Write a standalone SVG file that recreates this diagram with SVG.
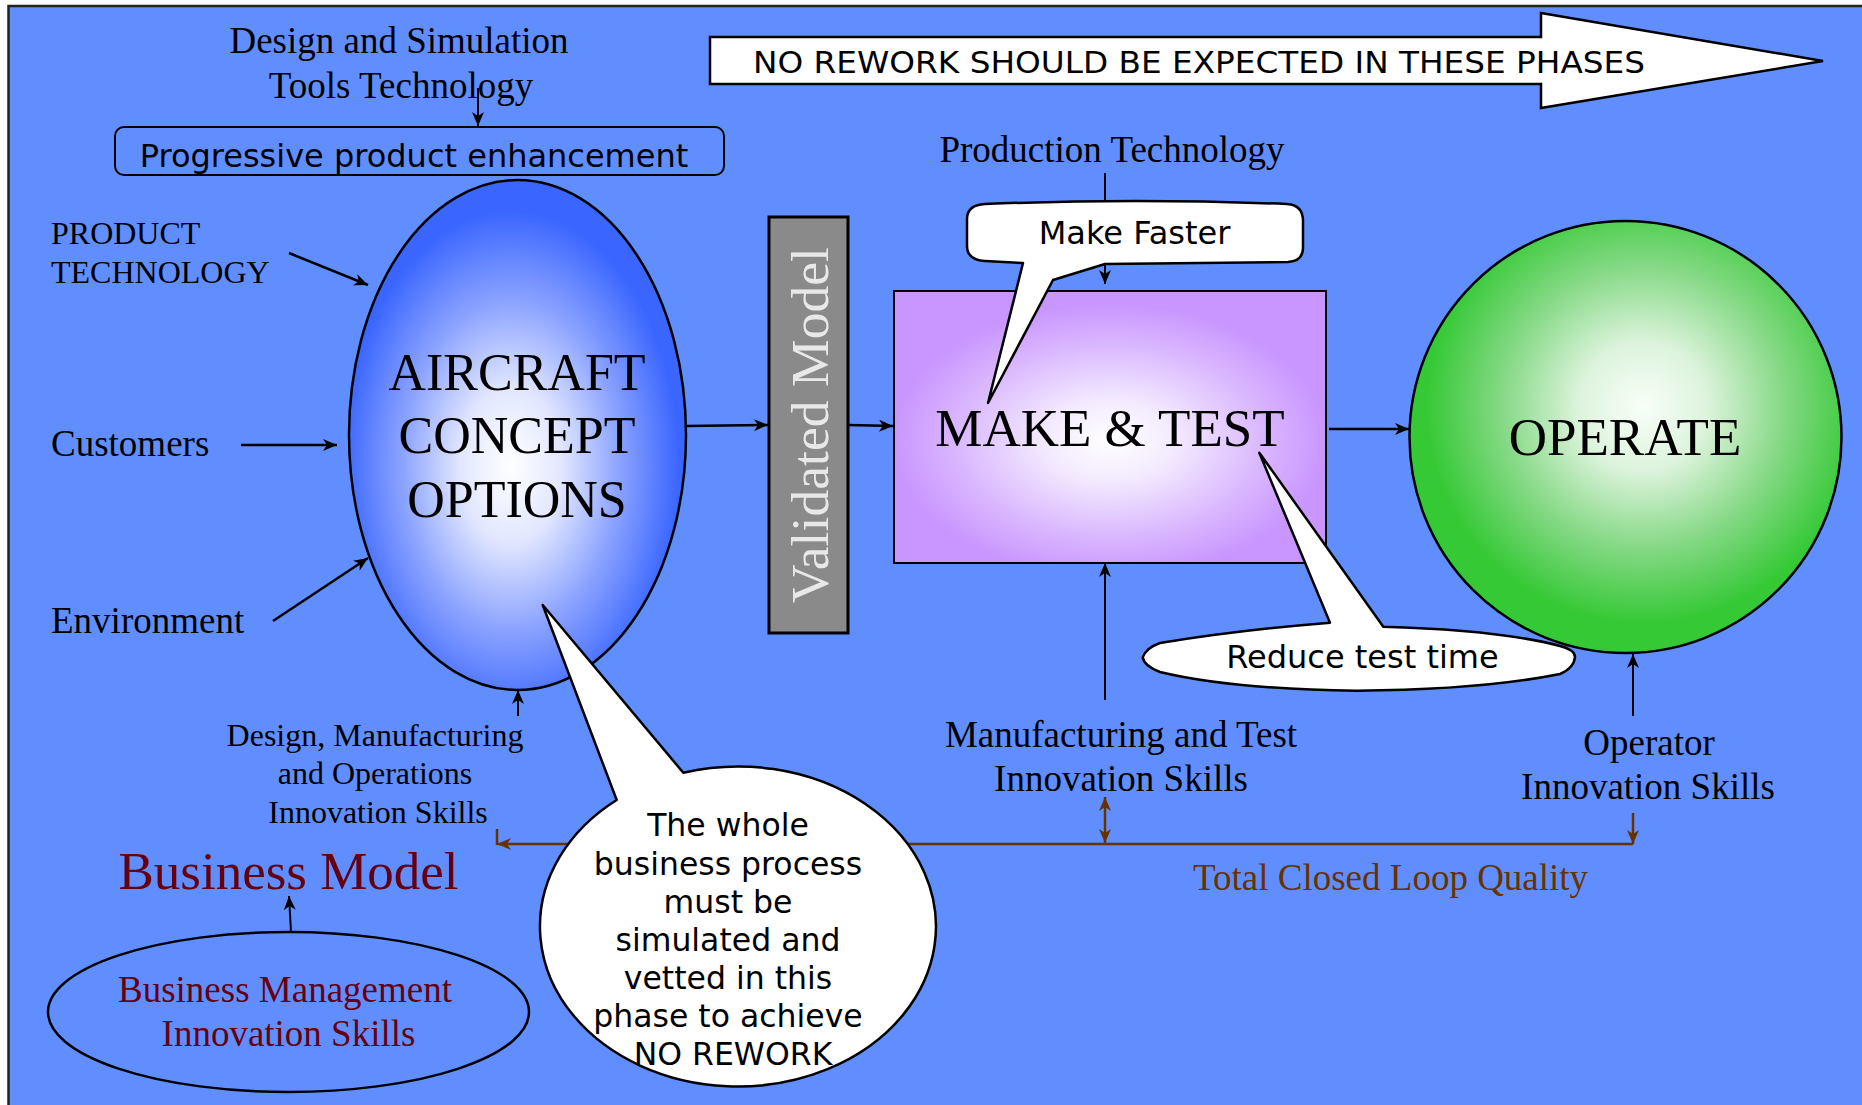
<svg xmlns="http://www.w3.org/2000/svg" width="1862" height="1105" viewBox="0 0 1862 1105">
<defs>
<style>
.serif{font-family:"Liberation Serif","Times New Roman",serif;fill:#000}
.sans{font-family:"DejaVu Sans",Verdana,sans-serif;fill:#000}
.ln{stroke:#000;stroke-width:2.5;fill:none}
.thin{stroke:#000;stroke-width:2;fill:none}
.br{stroke:#663300;stroke-width:2.5;fill:none}
.ol{stroke:#000;stroke-width:2.5}
.call{fill:#fff;stroke:#000;stroke-width:2.5;stroke-linejoin:round}
.red{fill:#66000f}
</style>
<marker id="ah" markerUnits="userSpaceOnUse" viewBox="0 0 14 12" markerWidth="14" markerHeight="12" refX="14" refY="6" orient="auto">
<path d="M0,0 L14,6 L0,12 L4,6 z" fill="#000"/>
</marker>
<marker id="ahb" markerUnits="userSpaceOnUse" viewBox="0 0 14 12" markerWidth="14" markerHeight="12" refX="14" refY="6" orient="auto-start-reverse">
<path d="M0,0 L14,6 L0,12 L4,6 z" fill="#663300"/>
</marker>
<radialGradient id="gAir" cx="0.48" cy="0.56" r="0.5">
<stop offset="0" stop-color="#ffffff"/>
<stop offset="0.3" stop-color="#e2e7ff"/>
<stop offset="0.65" stop-color="#8aa2ff"/>
<stop offset="1" stop-color="#3a66ff"/>
</radialGradient>
<radialGradient id="gMake" cx="0.5" cy="0.55" r="0.5">
<stop offset="0" stop-color="#ffffff"/>
<stop offset="0.3" stop-color="#f3eaff"/>
<stop offset="0.7" stop-color="#dab8ff"/>
<stop offset="1" stop-color="#c996ff"/>
</radialGradient>
<radialGradient id="gOp" cx="0.54" cy="0.43" r="0.5">
<stop offset="0" stop-color="#f8fff8"/>
<stop offset="0.3" stop-color="#dcf3dc"/>
<stop offset="0.65" stop-color="#86d986"/>
<stop offset="1" stop-color="#36c936"/>
</radialGradient>
</defs>

<rect x="0" y="0" width="1862" height="1105" fill="#ffffff"/>
<rect x="8.5" y="6" width="1870" height="1110" fill="#618eff" stroke="#222" stroke-width="2.5"/>

<g id="banner">
<polygon points="710,37 1541,37 1541,13 1823,61 1541,108 1541,84 710,84" fill="#fff" stroke="#000" stroke-width="2.5" stroke-linejoin="miter"/>
<text class="sans" x="753" y="73" font-size="30" textLength="892" lengthAdjust="spacingAndGlyphs">NO REWORK SHOULD BE EXPECTED IN THESE PHASES</text>
</g>

<g id="design-sim-tools">
<text class="serif" x="399" y="53" font-size="37" text-anchor="middle">Design and Simulation</text>
<text class="serif" x="401" y="98" font-size="37" text-anchor="middle">Tools Technology</text>
</g>

<g id="progressive">
<rect x="115" y="127" width="609" height="48" rx="9" fill="none" stroke="#000" stroke-width="2"/>
<text class="sans" x="414" y="167" font-size="32" text-anchor="middle">Progressive product enhancement</text>
</g>

<g id="product-technology">
<text class="serif" x="51" y="244" font-size="32">PRODUCT</text>
<text class="serif" x="51" y="283" font-size="32">TECHNOLOGY</text>
</g>
<g id="customers"><text class="serif" x="51" y="456" font-size="37">Customers</text></g>
<g id="environment"><text class="serif" x="51" y="633" font-size="37">Environment</text></g>

<g id="aircraft">
<ellipse cx="517.5" cy="435" rx="168.5" ry="255" fill="url(#gAir)" class="ol"/>
<text class="serif" x="517" y="390" font-size="52" text-anchor="middle">AIRCRAFT</text>
<text class="serif" x="517" y="453" font-size="52" text-anchor="middle">CONCEPT</text>
<text class="serif" x="517" y="517" font-size="52" text-anchor="middle">OPTIONS</text>
</g>

<g id="validated-model">
<rect x="769" y="217" width="79" height="416" fill="#8a8a8a" stroke="#000" stroke-width="3"/>
<text class="serif" transform="translate(828,425) rotate(-90)" x="-178" y="0" font-size="52" textLength="356" lengthAdjust="spacingAndGlyphs" style="fill:#e8e8e8">Validated Model</text>
</g>

<g id="make-test">
<rect x="894" y="291" width="432" height="272" fill="url(#gMake)" stroke="#000" stroke-width="2"/>
<text class="serif" x="1110" y="446" font-size="53" text-anchor="middle">MAKE &amp; TEST</text>
</g>

<g id="operate">
<circle cx="1625.5" cy="437" r="216" fill="url(#gOp)" class="ol"/>
<text class="serif" x="1625" y="455" font-size="53" text-anchor="middle">OPERATE</text>
</g>

<g id="production-technology">
<text class="serif" x="1112" y="162" font-size="37" text-anchor="middle">Production Technology</text>
</g>

<g id="design-mfg-ops-skills">
<text class="serif" x="375" y="746" font-size="32" text-anchor="middle">Design, Manufacturing</text>
<text class="serif" x="375" y="784" font-size="32" text-anchor="middle">and Operations</text>
<text class="serif" x="378" y="823" font-size="32" text-anchor="middle">Innovation Skills</text>
</g>

<g id="business-model">
<text class="serif red" x="288.5" y="889" font-size="53" text-anchor="middle">Business Model</text>
</g>

<g id="business-management">
<ellipse cx="288.5" cy="1012" rx="240.5" ry="80" fill="none" stroke="#000" stroke-width="2.5"/>
<text class="serif red" x="285" y="1002" font-size="37" text-anchor="middle">Business Management</text>
<text class="serif red" x="288.5" y="1046" font-size="37" text-anchor="middle">Innovation Skills</text>
</g>

<g id="mfg-test-skills">
<text class="serif" x="1121" y="747" font-size="37" text-anchor="middle">Manufacturing and Test</text>
<text class="serif" x="1121" y="791" font-size="37" text-anchor="middle">Innovation Skills</text>
</g>

<g id="operator-skills">
<text class="serif" x="1649" y="755" font-size="37" text-anchor="middle">Operator</text>
<text class="serif" x="1648" y="799" font-size="37" text-anchor="middle">Innovation Skills</text>
</g>

<g id="total-closed-loop-quality">
<text class="serif" x="1193" y="890" font-size="37" style="fill:#663300">Total Closed Loop Quality</text>
</g>

<g id="connectors">
<line class="thin" x1="478" y1="88" x2="478" y2="126" marker-end="url(#ah)"/>
<line class="ln" x1="289" y1="253" x2="368" y2="285" marker-end="url(#ah)"/>
<line class="ln" x1="241" y1="445" x2="337" y2="445" marker-end="url(#ah)"/>
<line class="ln" x1="273" y1="621" x2="368" y2="558" marker-end="url(#ah)"/>
<line class="ln" x1="686" y1="426" x2="768" y2="425" marker-end="url(#ah)"/>
<line class="ln" x1="849" y1="425" x2="893" y2="426" marker-end="url(#ah)"/>
<line class="ln" x1="1329" y1="429" x2="1409" y2="429" marker-end="url(#ah)"/>
<line class="thin" x1="1105" y1="173" x2="1105" y2="284" marker-end="url(#ah)"/>
<line class="thin" x1="1105" y1="700" x2="1105" y2="563" marker-end="url(#ah)"/>
<line class="thin" x1="1633" y1="716" x2="1633" y2="654" marker-end="url(#ah)"/>
<line class="thin" x1="518" y1="716" x2="518" y2="690" marker-end="url(#ah)"/>
<line class="thin" x1="291" y1="932" x2="289" y2="896" marker-end="url(#ah)"/>
<line class="br" x1="1633" y1="844" x2="497" y2="844" marker-end="url(#ahb)"/>
<line class="br" x1="497" y1="829" x2="497" y2="845"/>
<line class="br" x1="1105" y1="843" x2="1105" y2="797" marker-start="url(#ahb)" marker-end="url(#ahb)"/>
<line class="br" x1="1633" y1="813" x2="1633" y2="844" marker-end="url(#ahb)"/>
</g>

<g id="callout-make-faster">
<path class="call" d="M985,204 Q1135,198 1287,204 Q1303,205 1303,221 L1303,248 Q1303,261 1288,262 L1105,264 L1053,280 L988,403 L1023,263 L985,261 Q967,260 967,246 L967,219 Q967,205 985,204 Z"/>
<text class="sans" x="1134.5" y="244" font-size="32" text-anchor="middle">Make Faster</text>
</g>

<g id="callout-reduce-test">
<path class="call" d="M1142.7,657.3 Q1146,648 1160,643 Q1240,630 1330,622.7 L1259.3,452.7 L1383.3,626.7 Q1500,630 1560,646 Q1575,650 1575,657 Q1574,668 1560,674 Q1480,690 1356.7,690.7 Q1230,689 1160,672 Q1144,666 1142.7,657.3 Z"/>
<text class="sans" x="1362.5" y="668" font-size="32" text-anchor="middle">Reduce test time</text>
</g>

<g id="callout-whole-process">
<path class="call" d="M542.7,605 L683.3,772.7 A198,160 0 1 1 616.7,800 Z"/>
<text class="sans" font-size="31.5" text-anchor="middle">
<tspan x="733" y="836">The whole</tspan>
<tspan x="733" y="875">business process</tspan>
<tspan x="733" y="913">must be</tspan>
<tspan x="733" y="951">simulated and</tspan>
<tspan x="733" y="989">vetted in this</tspan>
<tspan x="733" y="1027">phase to achieve</tspan>
<tspan x="733" y="1065">NO REWORK</tspan>
</text>
</g>
</svg>
